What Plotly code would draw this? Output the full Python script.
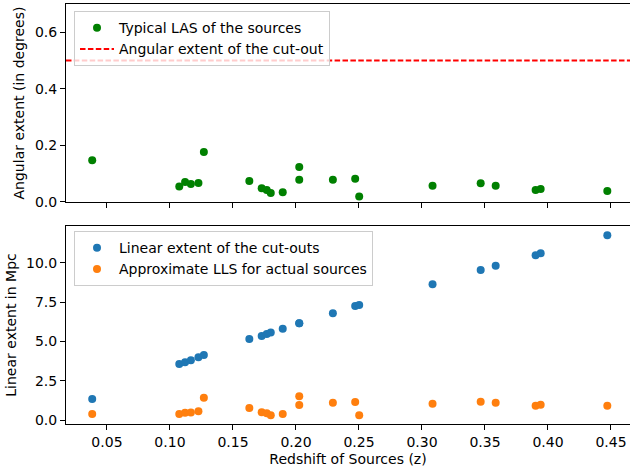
import plotly.graph_objects as go

# Data
z = [0.0383, 0.1074, 0.1120, 0.1166, 0.1226, 0.1269, 0.1630, 0.1728, 0.1768, 0.1800,
     0.1895, 0.2026, 0.2026, 0.2293, 0.2470, 0.2502, 0.3084, 0.3466, 0.3585, 0.3902,
     0.3942, 0.4471]
las_deg = [0.148, 0.055, 0.0706, 0.0635, 0.067, 0.1765, 0.074, 0.049, 0.042, 0.032,
           0.034, 0.1235, 0.0787, 0.0787, 0.082, 0.0198, 0.0575, 0.066, 0.0575, 0.042,
           0.046, 0.0388]
cutout_deg = 0.5
lin_cutout = [1.35, 3.57, 3.68, 3.80, 3.99, 4.14, 5.16, 5.35, 5.47, 5.56,
              5.81, 6.15, 6.15, 6.78, 7.25, 7.31, 8.62, 9.53, 9.80, 10.46,
              10.59, 11.73]
lls_mpc = [0.40, 0.40, 0.48, 0.50, 0.57, 1.43, 0.78, 0.51, 0.44, 0.32,
           0.40, 1.52, 0.97, 1.12, 1.16, 0.32, 1.05, 1.18, 1.12, 0.93,
           0.99, 0.93]

x_ticks = [0.05, 0.10, 0.15, 0.20, 0.25, 0.30, 0.35, 0.40, 0.45]
x_ticklabels = ["0.05", "0.10", "0.15", "0.20", "0.25", "0.30", "0.35", "0.40", "0.45"]
top_y_ticks = [0.0, 0.2, 0.4, 0.6]
top_y_ticklabels = ["0.0", "0.2", "0.4", "0.6"]
bot_y_ticks = [0.0, 2.5, 5.0, 7.5, 10.0]
bot_y_ticklabels = ["0.0", "2.5", "5.0", "7.5", "10.0"]

FONT = "DejaVu Sans"
FS = 14

fig = go.Figure()

fig.add_trace(go.Scatter(x=z, y=las_deg, mode="markers", name="Typical LAS of the sources",
                         marker=dict(color="#008000", size=8),
                         xaxis="x", yaxis="y", legend="legend"))
fig.add_trace(go.Scatter(x=[None], y=[None], mode="lines", name="Angular extent of the cut-out",
                         line=dict(color="#ff0000", width=2, dash="5.5px,2.4px"),
                         xaxis="x", yaxis="y", legend="legend"))
fig.add_shape(type="line", xref="x domain", yref="y", x0=0, x1=1, y0=cutout_deg, y1=cutout_deg,
              line=dict(color="#ff0000", width=2, dash="5.5px,2.4px"), layer="above")

fig.add_trace(go.Scatter(x=z, y=lin_cutout, mode="markers", name="Linear extent of the cut-outs",
                         marker=dict(color="#1f77b4", size=8),
                         xaxis="x2", yaxis="y2", legend="legend2"))
fig.add_trace(go.Scatter(x=z, y=lls_mpc, mode="markers", name="Approximate LLS for actual sources",
                         marker=dict(color="#ff7f0e", size=8),
                         xaxis="x2", yaxis="y2", legend="legend2"))

axis_common = dict(showline=True, linecolor="black", linewidth=1.1, ticks="outside",
                   ticklen=5, tickwidth=1.1, tickcolor="black", showgrid=False, zeroline=False,
                   tickfont=dict(family=FONT, size=FS, color="black"))

xr = [0.0175, 0.4651]
fig.update_layout(
    width=630, height=473,
    margin=dict(l=66, r=0, t=4, b=49),
    plot_bgcolor="white", paper_bgcolor="white",
    font=dict(family=FONT, size=FS, color="black"),
    xaxis=dict(domain=[0, 1], anchor="y", range=xr, tickvals=x_ticks, ticktext=x_ticklabels,
               showticklabels=False, mirror=True, matches="x2", **axis_common),
    yaxis=dict(domain=[0.5286, 1], anchor="x", range=[0, 0.7], tickvals=top_y_ticks,
               ticktext=top_y_ticklabels, mirror=False,
               title=dict(text="Angular extent (in degrees)", font=dict(family=FONT, size=FS), standoff=6),
               **axis_common),
    xaxis2=dict(domain=[0, 1], anchor="y2", range=xr, tickvals=x_ticks, ticktext=x_ticklabels,
                mirror=True,
                title=dict(text="Redshift of Sources (z)", font=dict(family=FONT, size=FS), standoff=5),
                **axis_common),
    yaxis2=dict(domain=[0, 0.4714], anchor="x2", range=[-0.235, 12.32], tickvals=bot_y_ticks,
                ticktext=bot_y_ticklabels, mirror=False,
                title=dict(text="Linear extent in Mpc", font=dict(family=FONT, size=FS), standoff=6),
                **axis_common),
    legend=dict(x=0.0142, y=0.983, xanchor="left", yanchor="top", itemwidth=34,
                bgcolor="rgba(255,255,255,0.8)", bordercolor="#cccccc", borderwidth=1,
                font=dict(family=FONT, size=FS, color="black")),
    legend2=dict(x=0.0142, y=0.459, xanchor="left", yanchor="top", itemwidth=34,
                 bgcolor="rgba(255,255,255,0.8)", bordercolor="#cccccc", borderwidth=1,
                 font=dict(family=FONT, size=FS, color="black")),
    showlegend=True,
)

fig.write_html("out.html")
